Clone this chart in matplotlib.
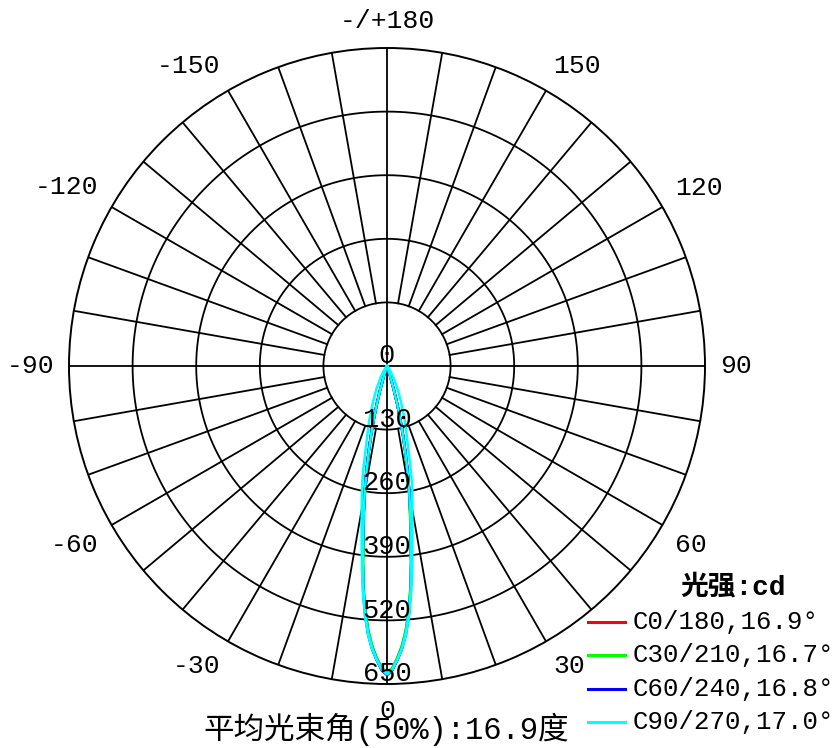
import numpy as np
import matplotlib.pyplot as plt
from matplotlib.lines import Line2D

plt.rcParams['font.family'] = ['Liberation Mono', 'Noto Sans CJK SC']

# gamma angles (deg) and intensity (cd) per C-plane half
GAMMA = [0, 1, 2, 3, 4, 5, 6, 7, 8, 9, 10, 11, 12, 13, 14, 15, 16,
         18, 20, 22, 25, 30, 35, 40, 50, 60, 90]
C0 = [630, 620, 600, 577, 547, 509, 462, 408, 352, 305, 264, 223, 183, 148, 114, 84, 54,
      18, 6, 3, 2, 1, 0, 0, 0, 0, 0]
C180 = [628, 618, 598, 575, 545, 507, 460, 406, 350, 303, 263, 222, 182, 146, 112, 82, 52,
        17, 6, 3, 2, 1, 0, 0, 0, 0, 0]
C30 = [627, 617, 597, 573, 543, 504, 456, 401, 345, 299, 258, 217, 178, 143, 108, 78, 48,
       15, 5, 2, 1, 1, 0, 0, 0, 0, 0]
C210 = [629, 619, 598, 575, 545, 506, 458, 403, 347, 301, 260, 219, 180, 145, 110, 80, 50,
        16, 5, 2, 1, 1, 0, 0, 0, 0, 0]
C60 = [632, 622, 602, 580, 551, 512, 465, 411, 354, 306, 265, 223, 183, 147, 112, 82, 52,
       16, 5, 2, 1, 1, 0, 0, 0, 0, 0]
C240 = [630, 620, 600, 577, 548, 509, 462, 407, 351, 304, 263, 221, 181, 146, 111, 81, 51,
        15, 5, 2, 1, 1, 0, 0, 0, 0, 0]
C90 = [630, 620, 601, 580, 552, 515, 470, 420, 372, 332, 298, 270, 245, 214, 185, 163, 145,
       118, 92, 72, 50, 24, 10, 4, 1, 0, 0]
C270 = [630, 620, 600, 577, 547, 508, 460, 405, 350, 303, 262, 221, 180, 145, 110, 80, 50,
        15, 5, 2, 1, 1, 0, 0, 0, 0, 0]

PLANES = ["C0/180", "C30/210", "C60/240", "C90/270"]
BEAM_ANGLES = ["16.9", "16.7", "16.8", "17.0"]
AVG_BEAM = "16.9"
COLORS = ['#ff0000', '#00ff00', '#0000ff', '#00ffff']
CURVES = [(C0, C180), (C30, C210), (C60, C240), (C90, C270)]

RING_VALUES = [0, 130, 260, 390, 520, 650]
ANGLE_TICKS = [0, 30, 60, 90, 120, 150, 180, -150, -120, -90, -60, -30]
ANGLE_TEXT = ['0', '30', '60', '90', '120', '150', '-/+180', '-150', '-120', '-90', '-60', '-30']


def mirror(vals):
    g = np.radians(GAMMA)
    v = np.asarray(vals, dtype=float)
    return np.concatenate([-g[::-1], g[1:]]), np.concatenate([v[::-1], v[1:]])


W, H = 840, 748
cx, cy, R = 387, 366, 318
fig = plt.figure(figsize=(W / 100, H / 100), dpi=100)
ax = fig.add_axes([(cx - R) / W, (H - cy - R) / H, 2 * R / W, 2 * R / H], projection='polar')
ax.set_theta_zero_location('S')
ax.set_theta_direction(1)
rmax = RING_VALUES[-1]
ax.set_ylim(0, rmax)
ax.set_xticks([])
ax.set_yticks([])
ax.grid(False)
ax.spines['polar'].set_linewidth(1.4)

# grid: rings and spokes
circ = np.linspace(0, 2 * np.pi, 721)
for r in RING_VALUES[1:-1]:
    ax.plot(circ, np.full_like(circ, r), color='black', lw=1.3, zorder=1)
for a in range(0, 360, 10):
    t = np.radians(a)
    r0 = 0 if a % 90 == 0 else RING_VALUES[1]
    ax.plot([t, t], [r0, rmax], color='black', lw=1.3, zorder=1)

# curves
for (half_a, half_b), col in zip(CURVES, COLORS):
    for half in (half_a, half_b):
        th, rr = mirror(half)
        ax.plot(th, rr, color=col, lw=1.8, zorder=3)

# ring labels
for v in RING_VALUES:
    ax.annotate(str(v), xy=(0, v), xytext=(0, 7), textcoords='offset points',
                ha='center', va='center', fontsize=19.5, zorder=5)

# angle labels
lab_r = rmax * 333 / R
for a, txt in zip(ANGLE_TICKS, ANGLE_TEXT):
    t = np.radians(a)
    s, c = np.sin(t), np.cos(t)
    ha = 'left' if s > 0.05 else ('right' if s < -0.05 else 'center')
    va = 'top' if c > 0.05 else ('bottom' if c < -0.05 else 'center')
    ax.text(t, lab_r, txt, ha=ha, va=va, fontsize=19, clip_on=False)

# legend
fig.text(733 / W, 1 - 588 / H, "光强:cd", ha='center', va='center',
         fontsize=20, fontweight='bold')
for i, (pl, ba, col) in enumerate(zip(PLANES, BEAM_ANGLES, COLORS)):
    y = 1 - (622 + 33.3 * i) / H
    fig.add_artist(Line2D([588 / W, 625 / W], [y, y], color=col, lw=2.2))
    fig.text(633 / W, y, f"{pl},{ba}°", ha='left', va='center', fontsize=18.5)

fig.text(386 / W, 1 - 729 / H, f"平均光束角(50%):{AVG_BEAM}度", ha='center', va='center',
         fontsize=22)

fig.savefig('out.png', dpi=100)
